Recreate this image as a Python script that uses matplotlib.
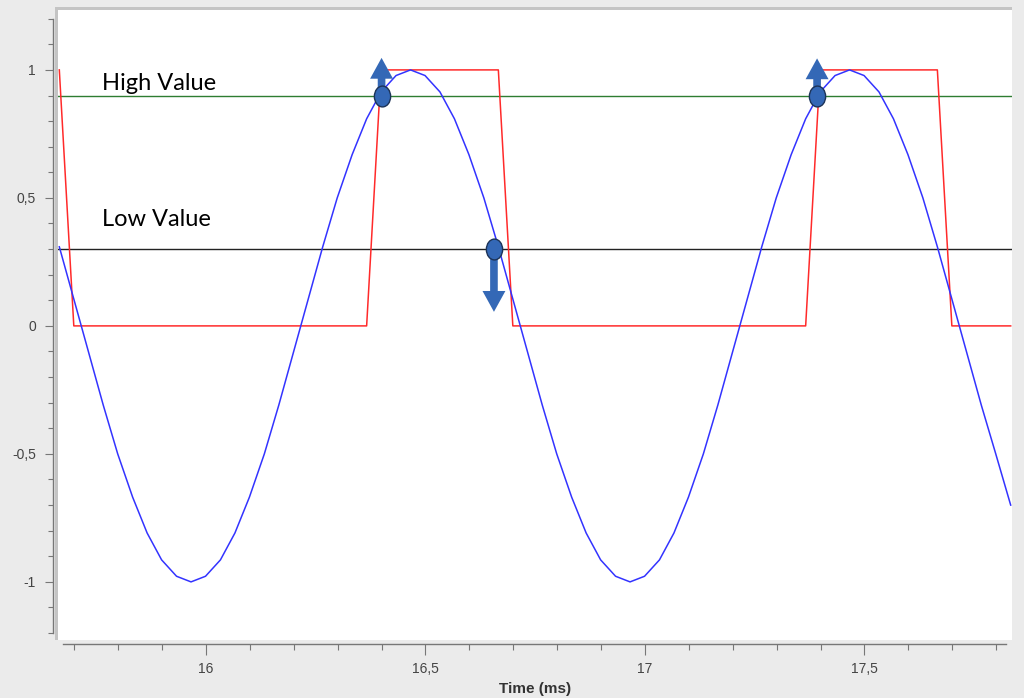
import numpy as np
import matplotlib
matplotlib.use("Agg")
import matplotlib.pyplot as plt
from matplotlib.path import Path
from matplotlib.ticker import MultipleLocator, FuncFormatter
from matplotlib.patches import Rectangle

# ---------------------------------------------------------------
# Data (sampled every 1/30 ms, read off the scope trace)
# ---------------------------------------------------------------
time_ms = [
    15.666, 15.699, 15.733, 15.766, 15.799, 15.833, 15.866, 15.899, 15.933, 15.966,
    15.999, 16.033, 16.066, 16.099, 16.133, 16.166, 16.199, 16.233, 16.266, 16.299,
    16.333, 16.366, 16.399, 16.433, 16.466, 16.499, 16.533, 16.566, 16.599, 16.633,
    16.666, 16.699, 16.733, 16.766, 16.799, 16.833, 16.866, 16.899, 16.933, 16.966,
    16.999, 17.033, 17.066, 17.099, 17.133, 17.166, 17.199, 17.233, 17.266, 17.299,
    17.333, 17.366, 17.399, 17.433, 17.466, 17.499, 17.533, 17.566, 17.599, 17.633,
    17.666, 17.699, 17.733, 17.766, 17.799, 17.833,
]
sine_in = [
    0.309, 0.105, -0.105, -0.309, -0.5, -0.669, -0.809, -0.914, -0.978, -1.0,
    -0.978, -0.914, -0.809, -0.669, -0.5, -0.309, -0.105, 0.105, 0.309, 0.5,
    0.669, 0.809, 0.914, 0.978, 1.0, 0.978, 0.914, 0.809, 0.669, 0.5,
    0.309, 0.105, -0.105, -0.309, -0.5, -0.669, -0.809, -0.914, -0.978, -1.0,
    -0.978, -0.914, -0.809, -0.669, -0.5, -0.309, -0.105, 0.105, 0.309, 0.5,
    0.669, 0.809, 0.914, 0.978, 1.0, 0.978, 0.914, 0.809, 0.669, 0.5,
    0.309, 0.105, -0.105, -0.309, -0.5, -0.7,
]
trigger_out = [
    1, 0, 0, 0, 0, 0, 0, 0, 0, 0,
    0, 0, 0, 0, 0, 0, 0, 0, 0, 0,
    0, 0, 1, 1, 1, 1, 1, 1, 1, 1,
    1, 0, 0, 0, 0, 0, 0, 0, 0, 0,
    0, 0, 0, 0, 0, 0, 0, 0, 0, 0,
    0, 0, 1, 1, 1, 1, 1, 1, 1, 1,
    1, 0, 0, 0, 0, 0,
]

high_value = 0.9
low_value = 0.3

# switching points: (time, level, arrow tip)
switch_t = [16.4, 16.656, 17.392]
switch_y = [0.9, 0.3, 0.9]
switch_tip = [1.047, 0.055, 1.045]

BG = "#ebebeb"
MARK = "#3468b6"

fig = plt.figure(figsize=(10.24, 6.98), dpi=100, facecolor=BG)
ax = fig.add_axes([58 / 1024, 58 / 698, 954 / 1024, 630 / 698])
ax.set_facecolor("white")

ax.plot(time_ms, trigger_out, color="#ff2a2a", lw=1.1, zorder=3)
ax.plot(time_ms, sine_in, color="#3333ff", lw=1.1, zorder=3)
ax.axhline(high_value, color="#2e7d32", lw=1.0, zorder=2)
ax.axhline(low_value, color="#222222", lw=1.0, zorder=2)

ax.set_xlim(15.663, 17.836)
ax.set_ylim(-1.227, 1.234)

# arrows from the switching points
for t, y, tip in zip(switch_t, switch_y, switch_tip):
    ax.annotate("", xy=(t, tip), xytext=(t, y),
                arrowprops=dict(arrowstyle="simple,head_length=1.5,head_width=1.65,tail_width=0.55",
                                mutation_scale=10, fc=MARK, ec="none",
                                shrinkA=0, shrinkB=0), zorder=4)

# slightly tall ellipse markers
ell = Path.unit_circle().transformed(matplotlib.transforms.Affine2D().scale(0.78, 1.0))
ax.plot(switch_t, switch_y, linestyle="none", marker=ell, markersize=15,
        mfc=MARK, mec="#1c3358", mew=1.0, zorder=5)

ax.text(15.763, 0.922, "High Value", fontsize=17, family=["Lato", "DejaVu Sans"],
        color="black", va="baseline")
ax.text(15.763, 0.39, "Low Value", fontsize=17, family=["Lato", "DejaVu Sans"],
        color="black", va="baseline")

# axes styling
for side in ["top", "right"]:
    ax.spines[side].set_visible(False)
ax.spines["left"].set_position(("outward", 3.6))
ax.spines["bottom"].set_position(("outward", 3))
ax.spines["left"].set_bounds(-1.2, 1.2)
ax.spines["bottom"].set_bounds(15.674, 17.823)
for side in ["left", "bottom"]:
    ax.spines[side].set_color("#777777")
    ax.spines[side].set_linewidth(1.0)

ax.xaxis.set_major_locator(MultipleLocator(0.5))
ax.xaxis.set_minor_locator(MultipleLocator(0.1))
ax.yaxis.set_major_locator(MultipleLocator(0.5))
ax.yaxis.set_minor_locator(MultipleLocator(0.1))
comma = FuncFormatter(lambda v, pos: f"{v:g}".replace(".", ","))
ax.xaxis.set_major_formatter(comma)
ax.yaxis.set_major_formatter(comma)

tick_font = ["Liberation Sans", "DejaVu Sans"]
ax.tick_params(axis="both", which="both", width=0.8, color="#777777",
               labelcolor="#444444", labelsize=10)
ax.tick_params(axis="x", which="major", length=8, pad=5)
ax.tick_params(axis="x", which="minor", length=4.3)
ax.tick_params(axis="y", which="major", length=5.8, pad=6.5)
ax.tick_params(axis="y", which="minor", length=3.6)
for lab in ax.get_xticklabels() + ax.get_yticklabels():
    lab.set_family(tick_font)

ax.set_xlabel("Time (ms)", fontsize=11, fontweight="bold", family=tick_font,
              color="#333333", labelpad=4)

# inset border on the plot box (top and left)
ax.add_patch(Rectangle((-0.003, 1.0), 1.003, 0.0045, transform=ax.transAxes,
                       fc="#c4c4c4", ec="none", clip_on=False, zorder=6))
ax.add_patch(Rectangle((-0.003, 0), 0.003, 1.0, transform=ax.transAxes,
                       fc="#c4c4c4", ec="none", clip_on=False, zorder=6))

fig.savefig("out.png", dpi=100, facecolor=BG)
